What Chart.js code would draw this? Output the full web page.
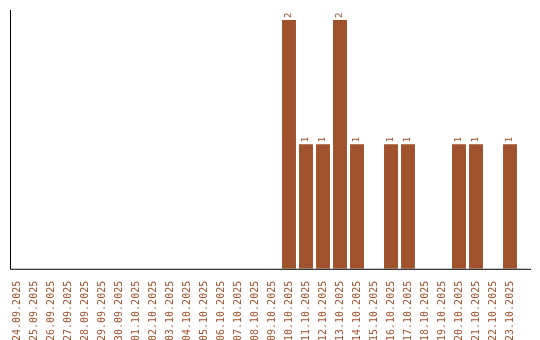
<!DOCTYPE html>
<html>
<head>
<meta charset="utf-8">
<script src="https://cdn.jsdelivr.net/npm/chart.js@4"></script>
<style>
  body { margin: 0; background: #fff; }
  #wrap { width: 540px; height: 340px; }
</style>
</head>
<body>
<div id="wrap"><canvas id="visits" width="540" height="340"></canvas></div>
<script>
// Days shown on the x axis
const days = [
    '24.09.2025', '25.09.2025', '26.09.2025', '27.09.2025', '28.09.2025', '29.09.2025',
    '30.09.2025', '01.10.2025', '02.10.2025', '03.10.2025', '04.10.2025', '05.10.2025',
    '06.10.2025', '07.10.2025', '08.10.2025', '09.10.2025', '10.10.2025', '11.10.2025',
    '12.10.2025', '13.10.2025', '14.10.2025', '15.10.2025', '16.10.2025', '17.10.2025',
    '18.10.2025', '19.10.2025', '20.10.2025', '21.10.2025', '22.10.2025', '23.10.2025'
];
// Count per day
const counts = [0, 0, 0, 0, 0, 0, 0, 0, 0, 0, 0, 0, 0, 0, 0, 0,
    2, 1, 1, 2, 1, 0, 1, 1, 0, 0, 1, 1, 0, 1];

const brown = '#A0522D';

// Axis lines and the small value labels on top of the bars
const extras = {
    id: 'extras',
    afterDatasetsDraw(chart) {
        const ctx = chart.ctx;
        const area = chart.chartArea;
        ctx.save();
        ctx.strokeStyle = '#000';
        ctx.lineWidth = 1;
        ctx.beginPath();
        ctx.moveTo(10.5, area.top);
        ctx.lineTo(10.5, area.bottom + 0.5);
        ctx.lineTo(531, area.bottom + 0.5);
        ctx.stroke();

        ctx.fillStyle = brown;
        ctx.font = '9px "DejaVu Sans Mono"';
        ctx.textAlign = 'left';
        ctx.textBaseline = 'middle';
        const meta = chart.getDatasetMeta(0);
        meta.data.forEach((bar, i) => {
            if (!counts[i]) return;
            ctx.save();
            ctx.translate(bar.x, bar.y - 2);
            ctx.rotate(-Math.PI / 2);
            ctx.fillText(String(counts[i]), 0, 0);
            ctx.restore();
        });
        ctx.restore();
    }
};

const chart = new Chart(document.getElementById('visits'), {
    type: 'bar',
    data: {
        labels: days,
        datasets: [{
            data: counts,
            backgroundColor: brown,
            barPercentage: 0.82,
            categoryPercentage: 1
        }]
    },
    options: {
        responsive: false,
        animation: false,
        layout: { padding: { left: 8.5, right: 21.5, top: 10, bottom: -5 } },
        plugins: { legend: { display: false }, tooltip: { enabled: false } },
        scales: {
            x: {
                grid: { display: false },
                border: { display: false },
                ticks: {
                    color: brown,
                    font: { family: 'DejaVu Sans Mono', size: 10 },
                    autoSkip: false,
                    minRotation: 90,
                    maxRotation: 90,
                    padding: 4
                }
            },
            y: {
                display: false,
                min: 0,
                max: 2.08
            }
        }
    },
    plugins: [extras]
});
</script>
</body>
</html>
